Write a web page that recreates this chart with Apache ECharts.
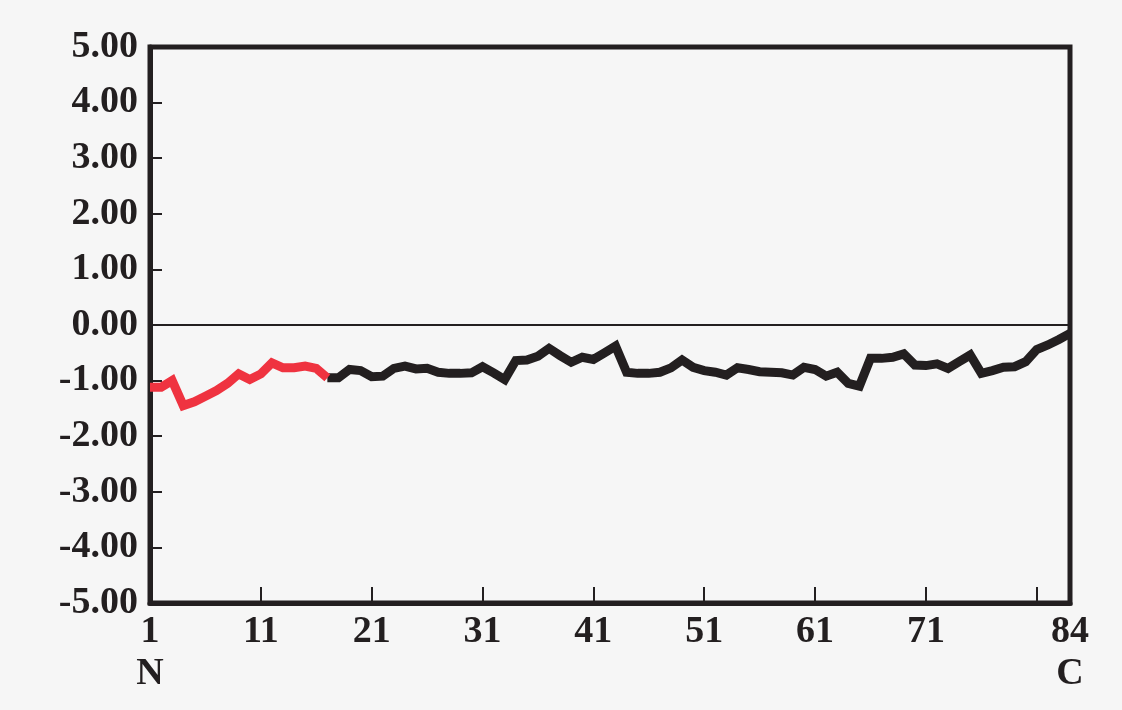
<!DOCTYPE html>
<html>
<head>
<meta charset="utf-8">
<script src="https://cdn.jsdelivr.net/npm/echarts@6/dist/echarts.min.js"></script>
<style>
  html, body { margin: 0; padding: 0; background: #f6f6f6; }
  #main { width: 1122px; height: 710px; }
</style>
</head>
<body>
<div id="main"></div>
<script>
// residue numbers 1..84 (N to C terminus)
var residues = [];
for (var r = 1; r <= 84; r++) residues.push(String(r));

// hydropathy-style profile
var profile = [
  -1.12, -1.12, -1.00, -1.45, -1.38, -1.28, -1.18, -1.05, -0.88, -0.98,
  -0.88, -0.68, -0.77, -0.77, -0.74, -0.78, -0.95, -0.95, -0.80, -0.82,
  -0.93, -0.92, -0.78, -0.74, -0.79, -0.78, -0.85, -0.87, -0.87, -0.86,
  -0.75, -0.86, -0.98, -0.64, -0.63, -0.56, -0.42, -0.55, -0.67, -0.58,
  -0.62, -0.50, -0.38, -0.85, -0.87, -0.87, -0.85, -0.77, -0.63, -0.76,
  -0.82, -0.85, -0.90, -0.77, -0.80, -0.84, -0.85, -0.86, -0.90, -0.76,
  -0.80, -0.92, -0.85, -1.05, -1.10, -0.60, -0.60, -0.58, -0.52, -0.72,
  -0.73, -0.70, -0.78, -0.66, -0.54, -0.87, -0.82, -0.76, -0.75, -0.66,
  -0.44, -0.36, -0.26, -0.15
];

var redEnd = 17; // residues 1..17 drawn in red
var redData = profile.map(function (v, i) { return i < redEnd ? v : null; });
var blackData = profile.map(function (v, i) { return i >= redEnd - 1 ? v : null; });

var xLabelIdx = [0, 10, 20, 30, 40, 50, 60, 70, 83];
var xTickIdx = [10, 20, 30, 40, 50, 60, 70, 80];

var ink = "#231f20";
var labelFont = {
  color: ink,
  fontFamily: "Liberation Serif",
  fontWeight: "bold",
  fontSize: 38,
};

var myChart = echarts.init(document.getElementById("main"));
var option = {
  backgroundColor: "#f6f6f6",
  animation: false,
  grid: {
    left: 150,
    right: 52,
    top: 47,
    bottom: 107,
    show: true,
    borderColor: ink,
    borderWidth: 5,
    backgroundColor: "transparent",
  },
  xAxis: {
    type: "category",
    data: residues,
    boundaryGap: false,
    axisLine: { onZero: false, lineStyle: { color: ink, width: 5 } },
    axisTick: {
      inside: true,
      length: 16,
      lineStyle: { color: ink, width: 2 },
      interval: function (i) { return xTickIdx.indexOf(i) >= 0; },
    },
    axisLabel: Object.assign({}, labelFont, {
      margin: 8,
      lineHeight: 42,
      interval: function (i) { return xLabelIdx.indexOf(i) >= 0; },
      formatter: function (v) {
        if (v === "1") return "1\nN";
        if (v === "84") return "84\nC";
        return v;
      },
    }),
    splitLine: { show: false },
  },
  yAxis: {
    type: "value",
    min: -5,
    max: 5,
    interval: 1,
    axisLine: { show: true, onZero: false, lineStyle: { color: ink, width: 5 } },
    axisTick: { show: true, inside: true, length: 12, lineStyle: { color: ink, width: 2 } },
    axisLabel: Object.assign({}, labelFont, {
      margin: 12,
      formatter: function (v) { return v.toFixed(2); },
    }),
    splitLine: { show: false },
  },
  series: [
    {
      type: "line",
      data: blackData,
      symbol: "none",
      lineStyle: { color: ink, width: 9, join: "miter" },
      markLine: {
        silent: true,
        symbol: "none",
        label: { show: false },
        lineStyle: { color: ink, width: 2, type: "solid" },
        data: [{ yAxis: 0 }],
      },
    },
    {
      type: "line",
      data: redData,
      symbol: "none",
      lineStyle: { color: "#ef3340", width: 9, join: "miter" },
    },
  ],
};

option && myChart.setOption(option);
window.addEventListener("resize", function () {
  myChart.resize();
});
</script>
</body>
</html>
